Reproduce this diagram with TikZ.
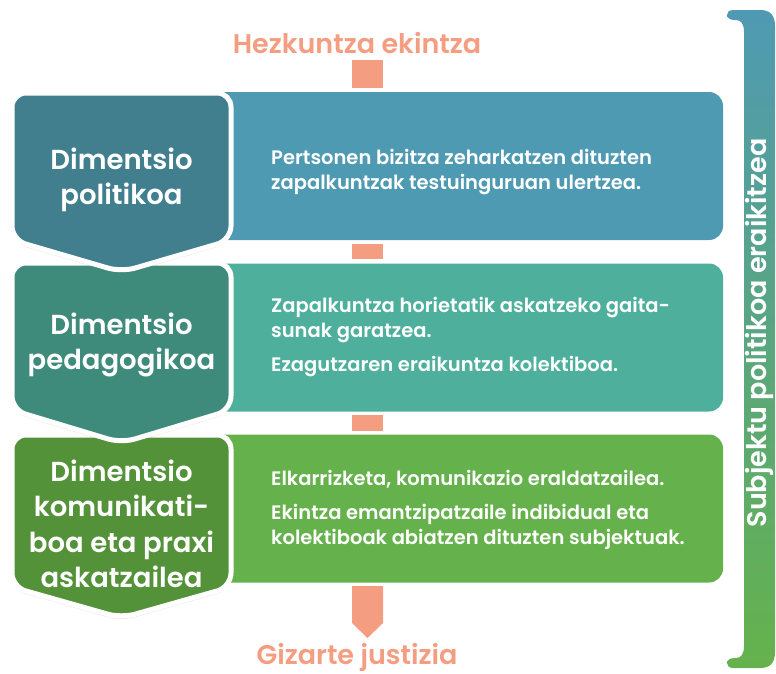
\documentclass[tikz,border=0pt]{standalone}
\usepackage{fontspec}
\setmainfont{Poppins}[BoldFont={Poppins SemiBold}]
\usetikzlibrary{shadows}
\definecolor{boxblue}{RGB}{79,154,179}
\definecolor{boxteal}{RGB}{78,176,156}
\definecolor{boxgreen}{RGB}{101,178,76}
\definecolor{dimblue}{RGB}{65,127,143}
\definecolor{dimteal}{RGB}{62,139,124}
\definecolor{dimgreen}{RGB}{84,146,58}
\definecolor{salmon}{RGB}{245,157,128}
\tikzset{rbox/.style={fill=#1, rounded corners=14pt, minimum width=523pt, minimum height=148pt, inner sep=0pt},
         rtext/.style={text=white, font=\fontsize{19.5}{25}\selectfont\bfseries, align=left, anchor=west, inner sep=0pt},
         dim/.style={fill=#1, draw=white, line width=5pt, rounded corners=14pt,
                     drop shadow={opacity=0.2, shadow xshift=0pt, shadow yshift=-3pt}},
         dimtext/.style={text=white, font=\fontsize{27.5}{35.5}\selectfont\bfseries, align=center, inner sep=0pt},
         link/.style={fill=salmon, minimum width=31pt, inner sep=0pt},
         ttl/.style={text=salmon, font=\fontsize{27}{30}\selectfont\bfseries}}

\begin{document}
\begin{tikzpicture}[x=1pt,y=-1pt]
    \useasboundingbox (0,0) rectangle (776,673);
    % right boxes
    \node[rbox=boxblue](b1)at(461.5,166){};
    \node[rbox=boxteal](b2)at(461.5,337.5){};
    \node[rbox=boxgreen](b3)at(461.5,508.5){};
    \node[rtext](t1)at(271,172){Pertsonen bizitza zeharkatzen dituzten\\zapalkuntzak testuinguruan ulertzea.};
    \node[rtext](t2)at(271,337){Zapalkuntza horietatik askatzeko gaita-\\sunak garatzea.\\[9pt]Ezagutzaren eraikuntza kolektiboa.};
    \node[rtext](t3)at(271,510){Elkarrizketa, komunikazio eraldatzailea.\\[9pt]Ekintza emantzipatzaile indibidual eta\\kolektiboak abiatzen dituzten subjektuak.};
    % salmon links
    \node[ttl](top)at(357,43){Hezkuntza ekintza};
    \node[link, minimum height=28pt](s0)at(367.5,74){};
    \node[link, minimum height=15pt](s1)at(367.5,251.5){};
    \node[link, minimum height=16pt](s2)at(367.5,423){};
    \node[ttl](bot)at(357,657){Gizarte justizia};
    \fill[salmon](352,586)--(383,586)--(383,623)--(367.5,638)--(352,623)--cycle;
    % left shapes, last one first
    \draw[dim=dimgreen](12,500)--(12,435)--(231,435)--(231,587)--(121.5,618)--(12,587)--cycle;
    \draw[dim=dimteal](12,330)--(12,263)--(231,263)--(231,410)--(121.5,443)--(12,410)--cycle;
    \draw[dim=dimblue](12,160)--(12,93)--(231,93)--(231,240)--(121.5,272)--(12,240)--cycle;
    \node[dimtext](d1)at(121.5,180){Dimentsio\\politikoa};
    \node[dimtext](d2)at(121.5,345){Dimentsio\\pedagogikoa};
    \node[dimtext](d3)at(121.5,524){Dimentsio\\komunikati-\\boa eta praxi\\askatzailea};
    % bracket
    \shade[top color=boxblue, middle color=boxteal!60!boxblue, bottom color=boxgreen]
        (775,26) .. controls (775,15) and (770,10) .. (760,10) -- (734,10)
        .. controls (729,10) and (727,12) .. (727,15) .. controls (727,18) and (730,20) .. (735,20)
        -- (736,20) .. controls (741,20) and (744,24) .. (744,32) -- (744,646)
        .. controls (744,654) and (741,658) .. (736,658) -- (735,658)
        .. controls (730,658) and (727,660) .. (727,663) .. controls (727,666) and (729,668) .. (734,668)
        -- (760,668) .. controls (770,668) and (775,663) .. (775,652) -- cycle;
    \node[rotate=90, text=white, font=\fontsize{27}{30}\selectfont\bfseries](v)at(759,333){Subjektu politikoa eraikitzea};
\end{tikzpicture}
\end{document}
